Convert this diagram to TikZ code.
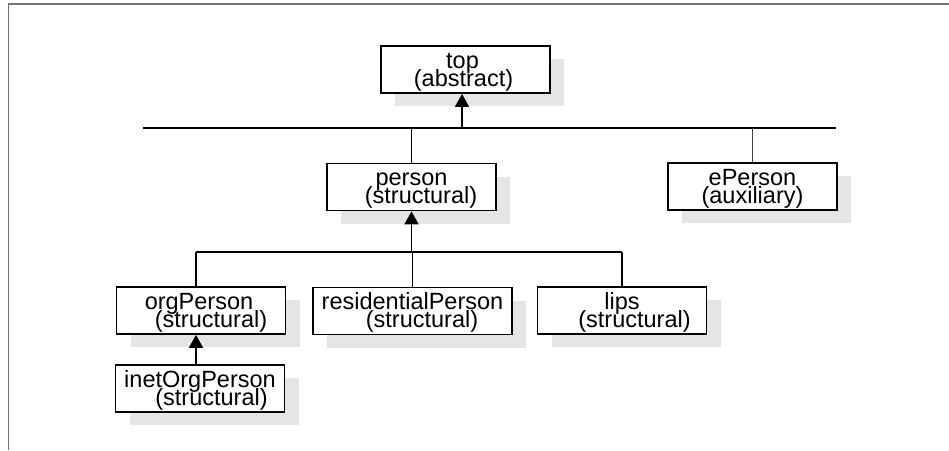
\documentclass[tikz,border=0pt]{standalone}
\usepackage{fontspec}
\setmainfont{Liberation Sans}
\usetikzlibrary{arrows.meta,shadows}
\definecolor{framegray}{HTML}{737373}
\definecolor{shadegray}{HTML}{E5E5E5}
\newcommand\clsfont{\fontsize{23.5}{18}\selectfont}
% two centred lines: class name above, kind below, with fixed baselines
\newcommand\clstext[2]{\vbox{\offinterlineskip\halign{\hfil##\hfil\cr
  \raisebox{0pt}[22pt][0pt]{#1}\cr
  \raisebox{0pt}[18pt][7pt]{#2}\cr}}}
\begin{document}
\begin{tikzpicture}[x=1pt,y=-1pt,
  cls/.style={draw=black, line width=1.8pt, fill=white,
    minimum width=169pt, minimum height=47pt, inner sep=0pt,
    font=\clsfont,
    drop shadow={shadow xshift=14pt, shadow yshift=-13pt, fill=shadegray, opacity=1}},
  bus/.style={line width=1.8pt, draw=black},
  link/.style={line width=0.9pt, draw=black!75},
  inherit/.style={line width=1.8pt, draw=black, -{Triangle[length=13pt,width=14pt]}},
  frame/.style={line width=1.6pt, draw=framegray}
]
\useasboundingbox (0,0) rectangle (949,450);

% page frame
\draw[frame] (949,4) -- (8.5,4) -- (8.5,450);

% object classes
\node[cls] (top) at (465.5,69.5) {\clstext{top\hspace*{6pt}}{(abstract)\hspace*{4pt}}};
\node[cls] (person) at (411.5,187) {\clstext{person}{\hspace*{19pt}(structural)}};
\node[cls] (eperson) at (752.5,186.5) {\clstext{ePerson}{(auxiliary)}};
\node[cls] (orgperson) at (201,310.5) {\clstext{orgPerson\hspace*{4pt}}{\hspace*{20pt}(structural)}};
\node[cls, minimum width=199pt] (residential) at (412.5,311) {\clstext{residentialPerson}{\hspace*{19pt}(structural)}};
\node[cls] (lips) at (622,310.5) {\clstext{lips}{\hspace*{25pt}(structural)}};
\node[cls] (inet) at (200,388.5) {\clstext{inetOrgPerson}{\hspace*{23pt}(structural)}};

% upper bus
\coordinate (b1l) at (143,128);
\coordinate (b1r) at (836,128);
\coordinate (b1t) at (462,128);
\draw[bus] (b1l) -- (b1r);
\draw[inherit] (b1t) -- (b1t |- top.south);
\draw[bus] (person.north |- b1l) -- (person.north);
\draw[link] (eperson.north |- b1l) -- (eperson.north);

% lower bus
\coordinate (b2l) at (196,252);
\coordinate (b2r) at (622,252);
\draw[bus] (b2l) -- (b2r);
\draw[inherit] (person.south |- b2l) -- (person.south);
\draw[bus] (b2l) -- (b2l |- orgperson.north);
\draw[bus] (residential.north |- b2l) -- (residential.north);
\draw[bus] (b2r) -- (b2r |- lips.north);

% inetOrgPerson derives from orgPerson
\draw[inherit] (b2l |- inet.north) -- (b2l |- orgperson.south);
\end{tikzpicture}
\end{document}
